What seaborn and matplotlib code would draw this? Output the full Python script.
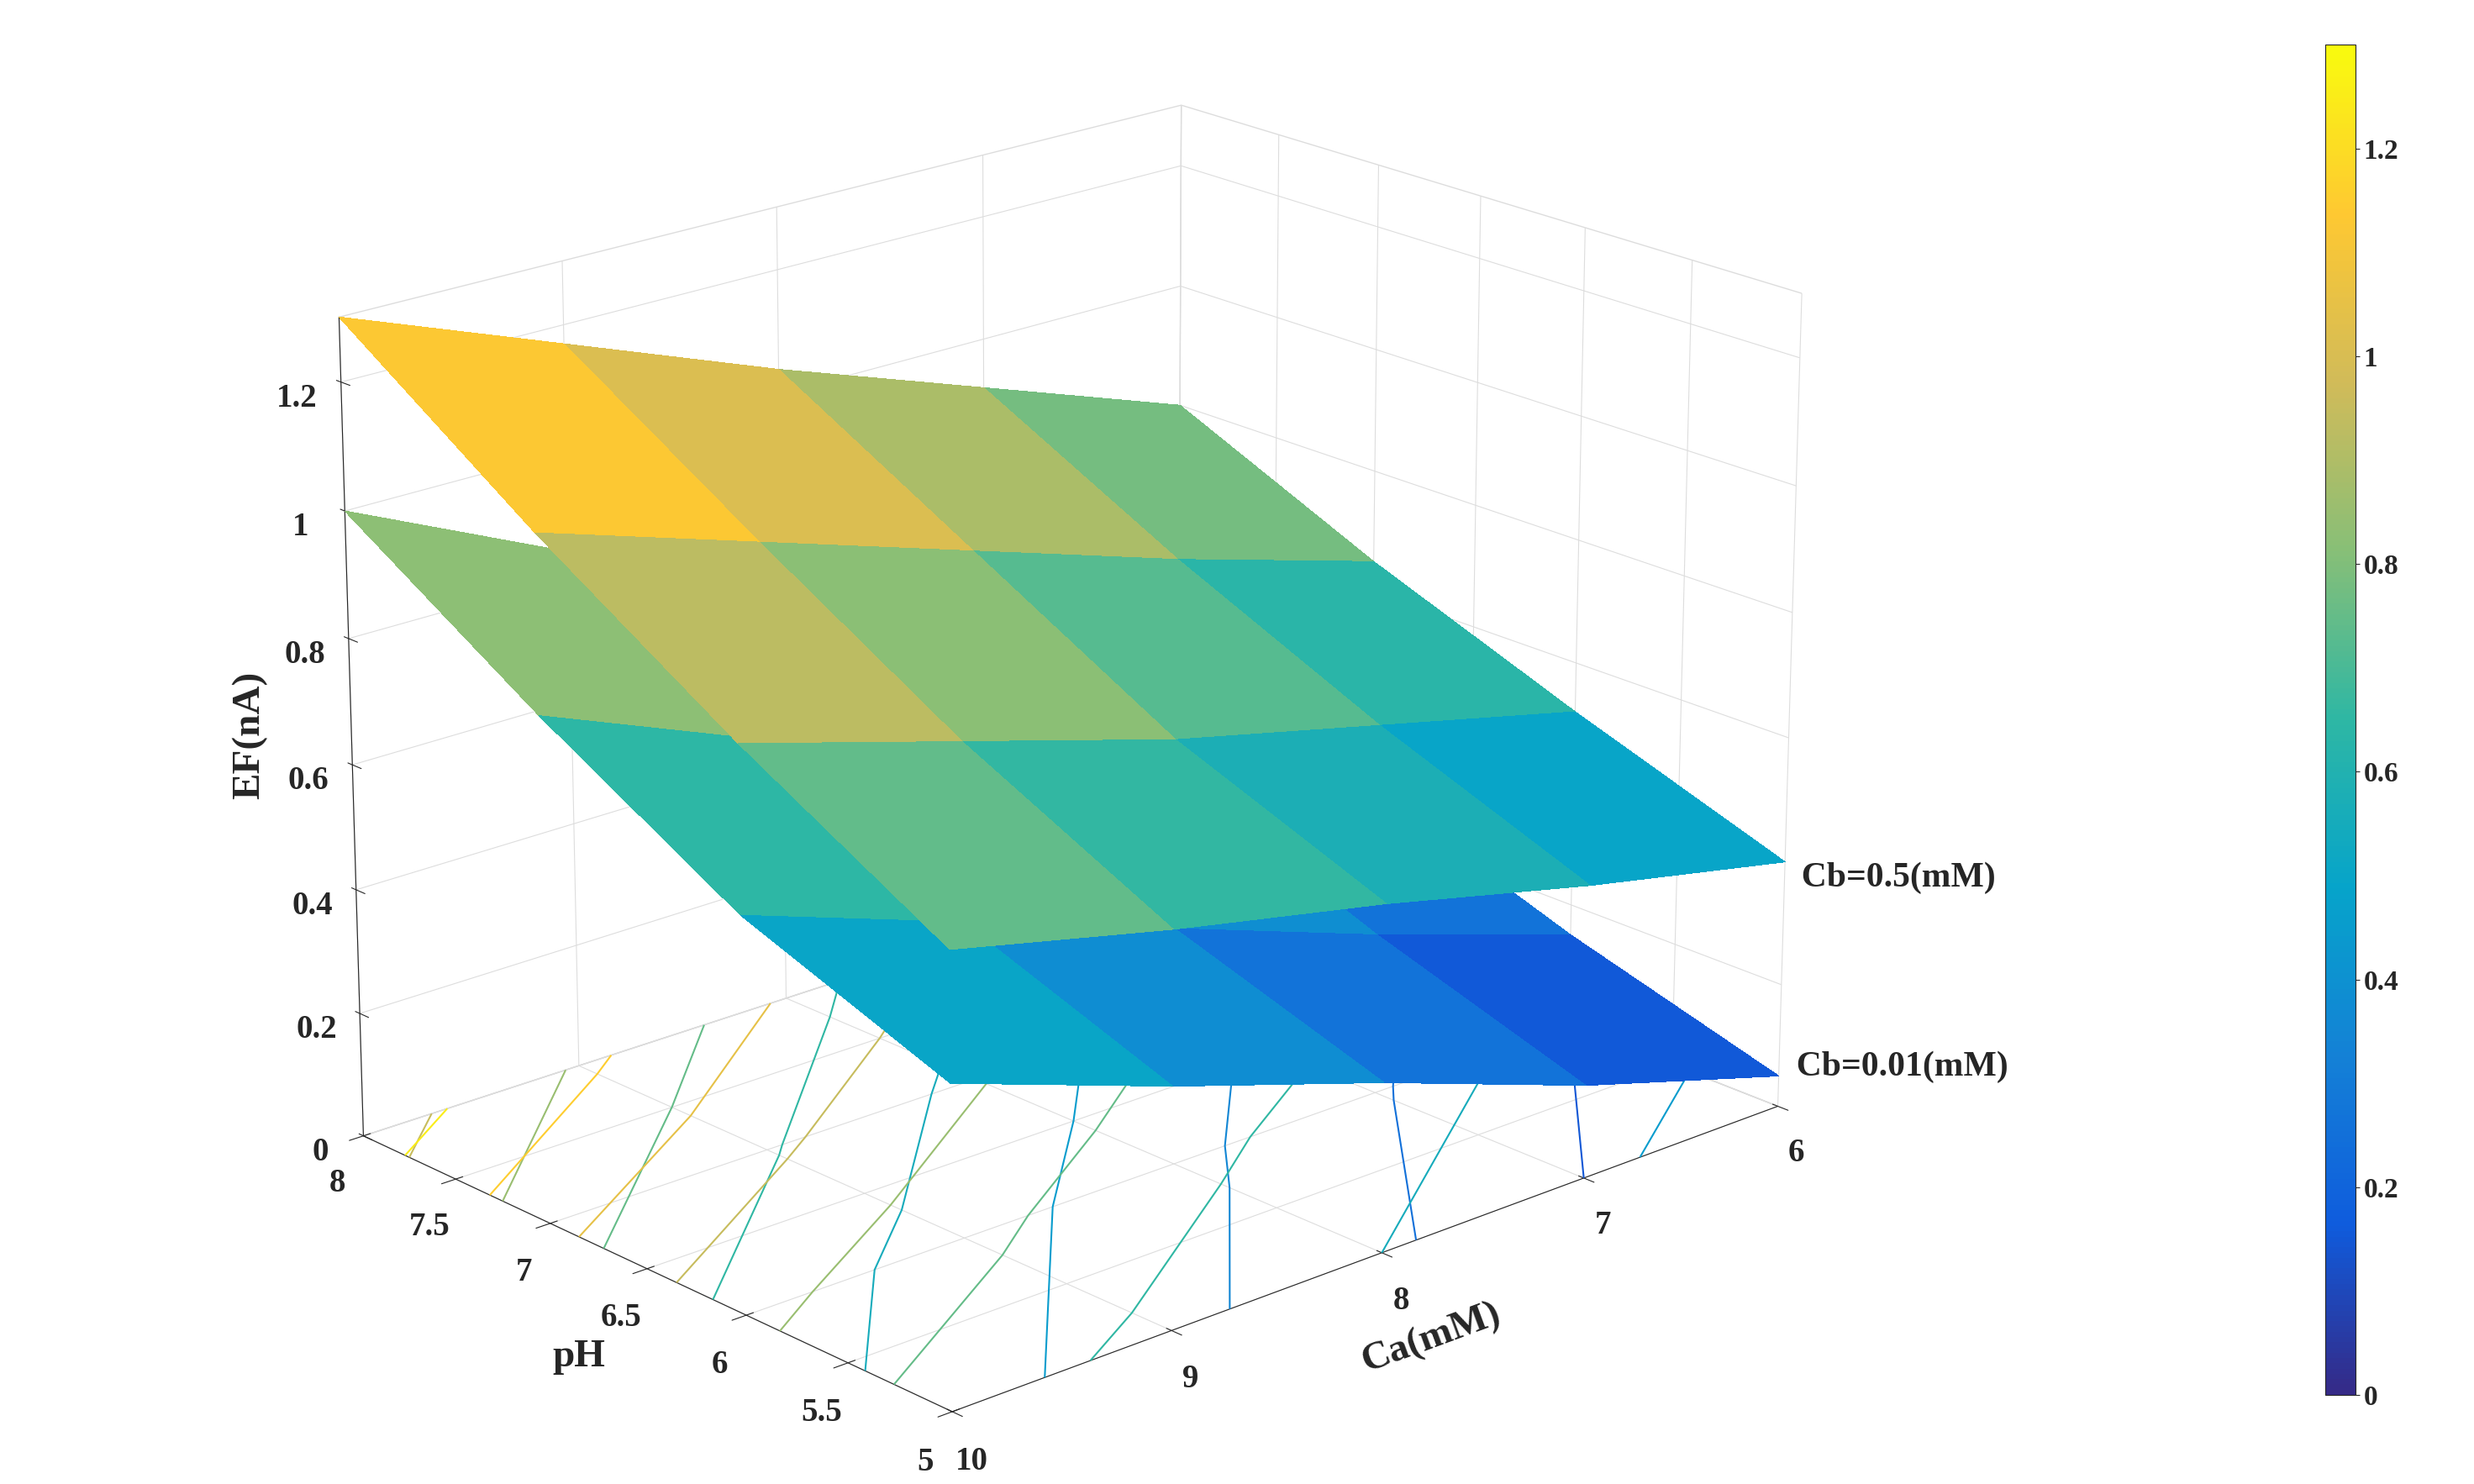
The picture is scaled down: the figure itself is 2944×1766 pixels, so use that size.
import numpy as np
import matplotlib
matplotlib.use("Agg")
import matplotlib.pyplot as plt
import seaborn as sns
from matplotlib.colors import LinearSegmentedColormap

sns.set_style("white")
plt.rcParams['font.family'] = ['Liberation Serif', 'DejaVu Serif']
plt.rcParams['font.weight'] = 'bold'

ca = [6, 7, 8, 9, 10]
ph = [5, 6, 7, 8]
ef_cb05 = [[0.40, 0.47, 0.55, 0.62, 0.70],
           [0.52, 0.60, 0.68, 0.78, 0.88],
           [0.65, 0.75, 0.86, 0.97, 1.08],
           [0.80, 0.92, 1.04, 1.17, 1.30]]
ef_cb001 = [[0.05, 0.15, 0.27, 0.38, 0.50],
            [0.15, 0.26, 0.38, 0.50, 0.62],
            [0.27, 0.39, 0.52, 0.66, 0.80],
            [0.40, 0.54, 0.69, 0.84, 1.00]]

parula = LinearSegmentedColormap.from_list("parula", [
    "#352a87", "#0f5cdd", "#1481d6", "#06a4ca", "#2eb7a4",
    "#87bf77", "#d1bb59", "#fec832", "#f9fb0e"])

# x = pH, y = Ca
Y, X = np.meshgrid(ca, ph)
Z1 = np.array(ef_cb05); Z2 = np.array(ef_cb001)

fig = plt.figure(figsize=(29.44, 17.66), dpi=100)
ax = fig.add_axes([-0.06, -0.05, 0.97, 1.1], projection='3d')
norm = plt.Normalize(0, 1.3)
levels = np.arange(0.05, 1.3, 0.1)
for Z in (Z2, Z1):
    ax.contour(X, Y, Z, levels=levels, cmap=parula, norm=norm, offset=0, linewidths=1.5)
for Z in (Z2, Z1):
    ax.plot_surface(X, Y, Z, cmap=parula, norm=norm, rstride=1, cstride=1,
                    linewidth=0, antialiased=False, shade=False)

ax.set_xlim(8, 5); ax.set_ylim(10, 6); ax.set_zlim(0, 1.3)
ax.set_yticks([6, 7, 8, 9, 10]); ax.set_xticks([5, 5.5, 6, 6.5, 7, 7.5, 8])
ax.set_xticklabels(['5', '5.5', '6', '6.5', '7', '7.5', '8'])
ax.set_zticks([0, 0.2, 0.4, 0.6, 0.8, 1, 1.2])
ax.set_zticklabels(['0', '0.2', '0.4', '0.6', '0.8', '1', '1.2'])
ax.tick_params(labelsize=28, pad=14)
ax.set_ylabel('Ca(mM)', fontsize=34, fontweight='bold', labelpad=36)
ax.set_xlabel('pH', fontsize=34, fontweight='bold', labelpad=36)
ax.zaxis.set_rotate_label(False)
ax.set_zlabel('EF(nA)', fontsize=34, fontweight='bold', labelpad=30, rotation=90)
for a in (ax.xaxis, ax.yaxis, ax.zaxis):
    a.pane.fill = False
    a.pane.set_edgecolor('#bbbbbb')
    a._axinfo['grid']['color'] = '#dddddd'
ax.zaxis._axinfo['juggled'] = (1, 2, 0)
ax.view_init(elev=20, azim=-42)
ax.set_box_aspect((1.25, 1.55, 1.2))
ax.text(5, 6, Z1[0, 0] - 0.04, '  Cb=0.5(mM)', fontsize=30, fontweight='bold')
ax.text(5, 6, Z2[0, 0] + 0.0, '  Cb=0.01(mM)', fontsize=30, fontweight='bold')

cax = fig.add_axes([0.94, 0.06, 0.012, 0.91])
sm = plt.cm.ScalarMappable(norm=norm, cmap=parula)
cb = fig.colorbar(sm, cax=cax, ticks=[0, 0.2, 0.4, 0.6, 0.8, 1, 1.2])
cb.ax.set_yticklabels(['0', '0.2', '0.4', '0.6', '0.8', '1', '1.2'])
cb.ax.tick_params(labelsize=24)
fig.savefig('out.png', dpi=100)
